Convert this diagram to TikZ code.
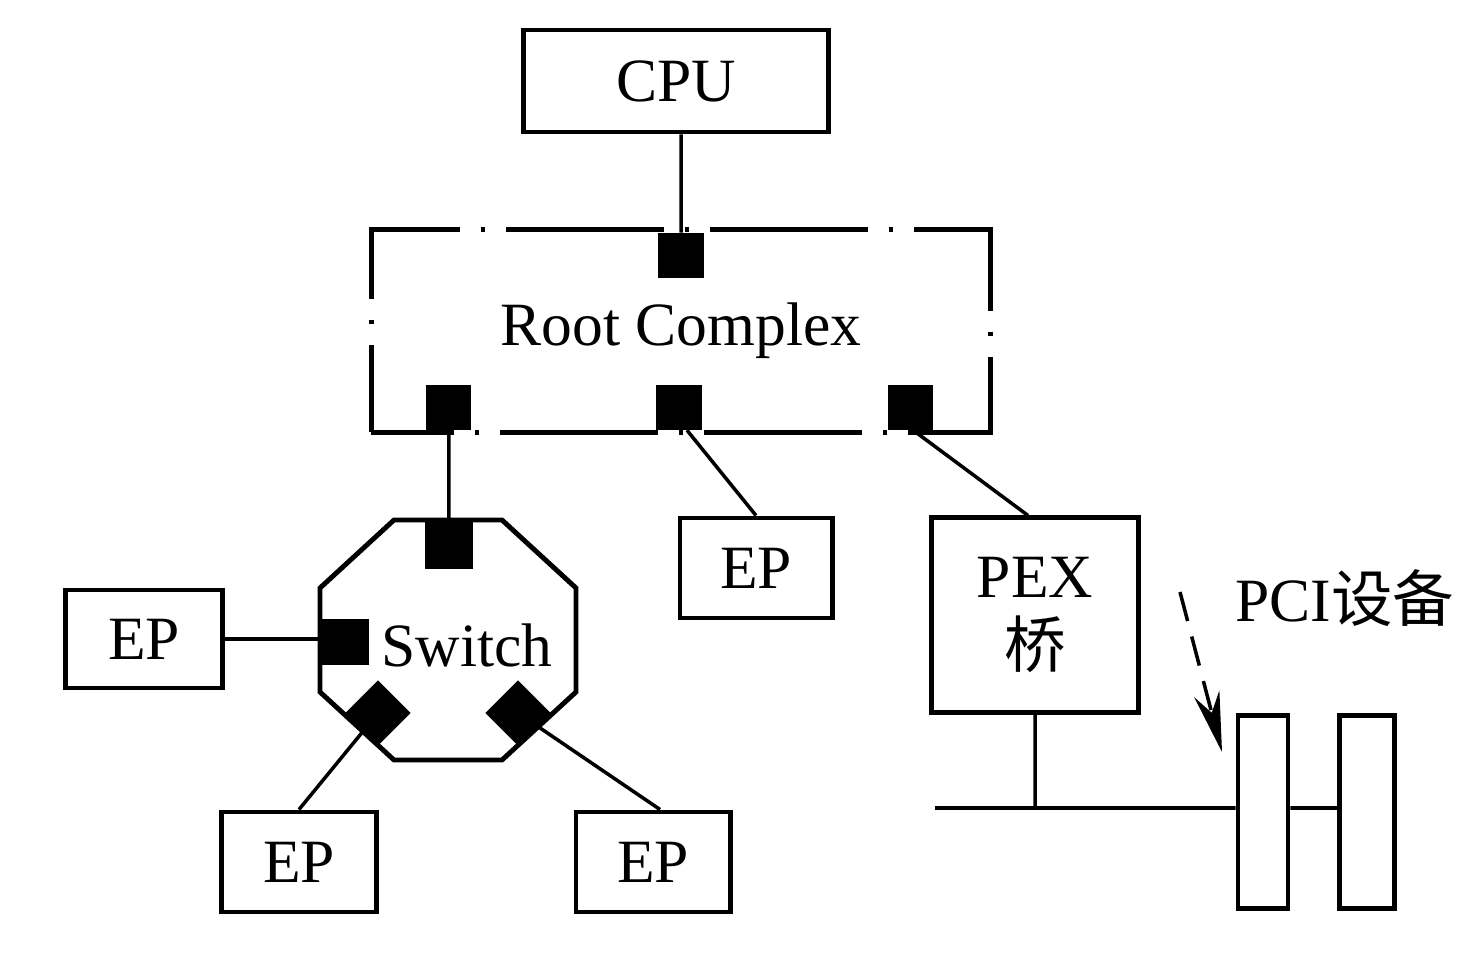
\documentclass[tikz,border=0pt]{standalone}
\usepackage{fontspec}
\setmainfont{Liberation Serif}
\newfontfamily\cjk{Noto Sans CJK SC}
\usetikzlibrary{positioning, shapes.geometric, arrows.meta}
\tikzset{
x=0.01cm, y=-0.01cm, % one unit is one pixel of the layout, y runs downwards
every node/.style={font=\fontsize{17.5}{18}\selectfont}, % one text size for all labels
unit/.style={draw, line width=1.4pt, inner sep=0pt}, % framed units (CPU, EP, PEX, slots)
port/.style={fill=black, inner sep=0pt, minimum width=0.45cm, minimum height=0.45cm}, % black link ports
dport/.style={diamond, fill=black, inner sep=0pt, aspect=1, minimum width=0.66cm, minimum height=0.66cm}, % tilted switch ports
link/.style={line width=1pt}, % plain connectors
dashdot/.style={line width=1.4pt, dash pattern=on 1.58cm off 0.21cm on 0.04cm off 0.21cm, dash phase=0.71cm}, % outline of the root complex
}

\begin{document}
\begin{tikzpicture}
                \useasboundingbox (0,0) rectangle (1482,961);
                \node[unit, minimum width=3.04cm, minimum height=1.02cm] (cpu) at (676,81) {CPU};
                \node[inner sep=0pt, minimum width=6.18cm, minimum height=2.01cm] (rc) at (681,331) {Root Complex};
                \draw[dashdot] (rc.south west) -- (rc.north west) -- (rc.north east) -- (rc.south east) -- cycle;
                \node[port, anchor=north] (rcT) at ([yshift=-0.03cm]rc.north) {};
                \node[port, anchor=south] (rcB1) at ([xshift=-2.32cm, yshift=0.02cm]rc.south) {};
                \node[port, anchor=south] (rcB2) at ([xshift=-0.02cm, yshift=0.02cm]rc.south) {};
                \node[port, anchor=south] (rcB3) at ([xshift=2.29cm, yshift=0.02cm]rc.south) {};
                \draw[unit] (394,520) -- (502,520) -- (576,588) -- (576,692) -- (502,760)
                    -- (394,760) -- (320,692) -- (320,588) -- cycle;
                \node (sw) at (467,645) {Switch};
                \node[port, minimum width=0.47cm, minimum height=0.47cm] (swT) at (449,545) {};
                \node[port, minimum width=0.48cm] (swL) at (345,642) {};
                \node[dport] (swBL) at (378,713) {};
                \node[dport] (swBR) at (518,713) {};
                \node[unit, minimum width=1.56cm, minimum height=0.98cm] (ep1) at (144,639) {EP};
                \node[unit, minimum width=1.52cm, minimum height=1.0cm] (ep2) at (756,568) {EP};
                \node[unit, minimum width=1.54cm, minimum height=1.0cm] (ep3) at (299,862) {EP};
                \node[unit, minimum width=1.54cm, minimum height=1.0cm] (ep4) at (653,862) {EP};
                \node[unit, minimum width=2.06cm, minimum height=1.94cm, align=center] (pex) at (1035,615) {PEX\\[2pt]{\cjk 桥}};
                \node[unit, minimum width=0.5cm, minimum height=1.92cm] (slot1) at (1263,812) {};
                \node[unit, minimum width=0.55cm, minimum height=1.92cm] (slot2) at (1367,812) {};
                \node (pci) at (1345,598) {PCI{\cjk 设备}};
                \coordinate (busL) at (935,808);
                \coordinate (arrS) at (1180,592);
                \coordinate (arrE) at (1222,752);
                \draw[link]
                    (cpu.south -| rcT) -- (rcT.north)
                    (rcB1.south) -- (rcB1.south |- swT.north)
                    ([xshift=0.08cm]rcB2.south) -- (ep2.north)
                    ([xshift=0.03cm]rcB3.south) -- ([xshift=-0.07cm]pex.north)
                    (ep1.east) -- (ep1.east -| swL.west)
                    (swBL) -- (ep3.north)
                    (swBR) -- ([xshift=0.07cm]ep4.north)
                    (pex.south) -- (pex.south |- busL)
                    (busL) -- (busL -| slot1.west)
                    (busL -| slot1.east) -- (busL -| slot2.west)
                    ;
                \draw[link, dash pattern=on 0.3cm off 0.16cm, -{Stealth[length=0.6cm, width=0.26cm]}] (arrS) -- (arrE);
                \end{tikzpicture}
\end{document}
